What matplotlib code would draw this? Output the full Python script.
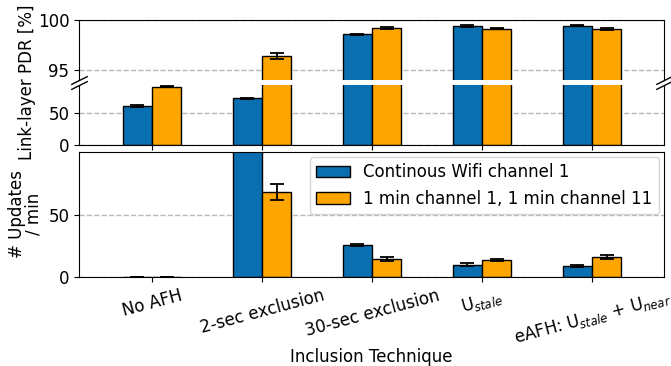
import numpy as np
import matplotlib.pyplot as plt

techniques = ["No AFH", "2-sec exclusion", "30-sec exclusion",
              r"U$_{stale}$", r"eAFH: U$_{stale}$ + U$_{near}$"]
series = ["Continous Wifi channel 1", "1 min channel 1, 1 min channel 11"]

pdr_wifi1 = [61.7, 73.4, 98.55, 99.35, 99.4]
pdr_wifi1_err = [1.5, 0.8, 0.05, 0.08, 0.04]
pdr_hop = [91.4, 96.4, 99.15, 99.1, 99.05]
pdr_hop_err = [0.3, 0.3, 0.07, 0.08, 0.08]

upd_wifi1 = [0.0, 130.0, 25.4, 10.0, 8.8]
upd_wifi1_err = [0.0, 0.0, 0.7, 1.5, 0.8]
upd_hop = [0.0, 68.0, 14.2, 13.8, 16.0]
upd_hop_err = [0.0, 6.5, 1.5, 0.8, 1.5]

blue = "#0a6fb0"
orange = "#ffa500"
w = 0.265
x = np.arange(len(techniques))

fig = plt.figure(figsize=(6.71, 3.66), dpi=100)
L, R = 0.1177, 0.9896
ax_hi = fig.add_axes([L, 0.7814, R - L, 0.9467 - 0.7814])
ax_lo = fig.add_axes([L, 0.6038, R - L, 0.7678 - 0.6038])
ax_up = fig.add_axes([L, 0.2432, R - L, 0.5855 - 0.2432])

bar_kw = dict(align="edge", edgecolor="black", linewidth=1,
              error_kw=dict(ecolor="black", elinewidth=1.3, capsize=5, capthick=1.3))

for ax in (ax_hi, ax_lo):
    ax.bar(x - w, pdr_wifi1, w, yerr=pdr_wifi1_err, color=blue, label=series[0], **bar_kw)
    ax.bar(x, pdr_hop, w, yerr=pdr_hop_err, color=orange, label=series[1], **bar_kw)
    ax.set_xlim(-0.664, 4.655)
    ax.yaxis.grid(True, linestyle="--", color="#b8b8b8", linewidth=1)
    ax.set_axisbelow(True)
    ax.set_xticks(x)
    ax.tick_params(labelsize=12)

ax_hi.set_ylim(93.95, 100)
ax_hi.set_yticks([95, 100])
ax_hi.spines["bottom"].set_visible(False)
ax_hi.tick_params(axis="x", bottom=False, labelbottom=False)

ax_lo.set_ylim(0, 94)
ax_lo.set_yticks([0, 50])
ax_lo.spines["top"].set_visible(False)
ax_lo.tick_params(axis="x", labelbottom=False)

# break marks
mk = dict(marker=[(-1, -0.5), (1, 0.5)], markersize=12, linestyle="none",
          color="k", mec="k", mew=1, clip_on=False)
ax_hi.plot([0, 1], [0, 0], transform=ax_hi.transAxes, **mk)
ax_lo.plot([0, 1], [1, 1], transform=ax_lo.transAxes, **mk)

fig.text(0.040, (0.9467 + 0.6038) / 2, "Link-layer PDR [%]", rotation=90,
         ha="center", va="center", fontsize=12)

ax_up.bar(x - w, upd_wifi1, w, yerr=upd_wifi1_err, color=blue, label=series[0], **bar_kw)
ax_up.bar(x, upd_hop, w, yerr=upd_hop_err, color=orange, label=series[1], **bar_kw)
ax_up.set_xlim(-0.664, 4.655)
ax_up.set_ylim(0, 100.5)
ax_up.set_yticks([0, 50])
ax_up.yaxis.grid(True, linestyle="--", color="#b8b8b8", linewidth=1)
ax_up.set_axisbelow(True)
ax_up.set_xticks(x)
ax_up.set_xticklabels(techniques, rotation=15, ha="center")
ax_up.tick_params(labelsize=12)
ax_up.set_ylabel("# Updates\n/ min", fontsize=12, linespacing=0.9)
ax_up.yaxis.set_label_coords(-0.062, 0.5)
ax_up.set_xlabel("Inclusion Technique", fontsize=12, labelpad=0)
ax_up.legend(loc="upper right", fontsize=12, borderaxespad=0.3)

fig.savefig("out.png", dpi=100)
